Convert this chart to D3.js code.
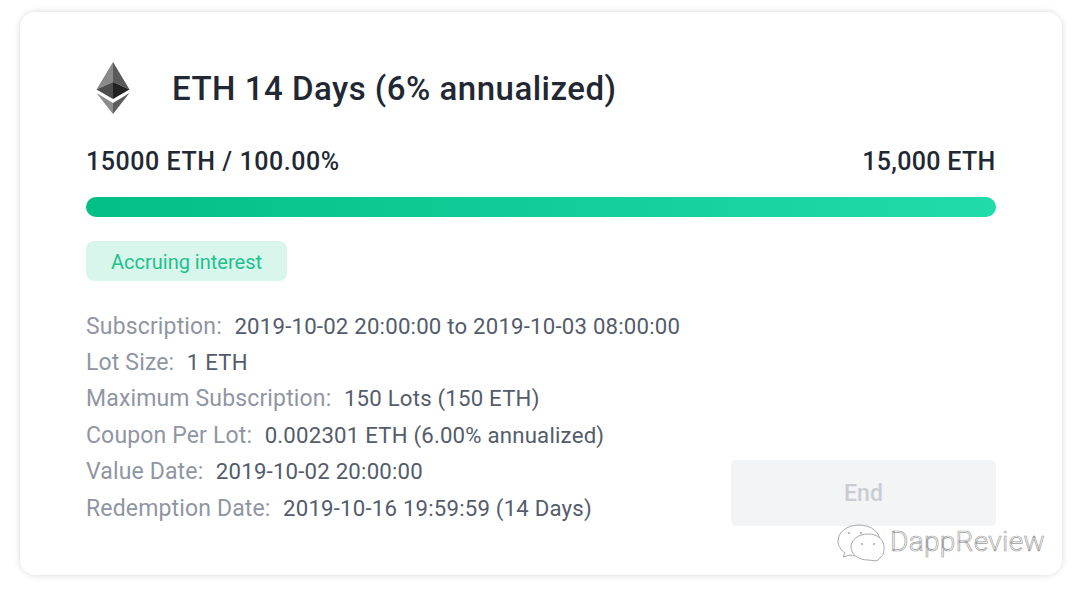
<!DOCTYPE html>
<html><head><meta charset="utf-8">
<script src="https://cdn.jsdelivr.net/npm/d3@7/dist/d3.min.js"></script>
<style>html,body{margin:0;padding:0;background:#fff}svg{display:block}text{font-family:Roboto,"Noto Sans",sans-serif}</style>
</head><body><div id="c"></div>
<script>
const title = "ETH 14 Days (6% annualized)";
const subscribed = 15000;
const total = 15000;
const progressLeft = "15000 ETH / 100.00%";
const progressRight = "15,000 ETH";
const statusLabel = "Accruing interest";
const detailLabels = ["Subscription:","Lot Size:","Maximum Subscription:","Coupon Per Lot:","Value Date:","Redemption Date:"];
const detailValues = ["2019-10-02 20:00:00 to 2019-10-03 08:00:00","1 ETH","150 Lots (150 ETH)","0.002301 ETH (6.00% annualized)","2019-10-02 20:00:00","2019-10-16 19:59:59 (14 Days)"];
const buttonLabel = "End";
const watermark = "DappReview";

const W=1080,H=592;
const svg=d3.select("#c").append("svg").attr("width",W).attr("height",H);
const defs=svg.append("defs");
const sh=defs.append("filter").attr("id","sh").attr("x","-5%").attr("y","-5%").attr("width","110%").attr("height","110%");
sh.append("feDropShadow").attr("dx",0).attr("dy",0).attr("stdDeviation",3).attr("flood-color","#000").attr("flood-opacity",.16);
const gr=defs.append("linearGradient").attr("id","gr");
gr.append("stop").attr("offset","0").attr("stop-color","#03bf86");
gr.append("stop").attr("offset","1").attr("stop-color","#1fdcaa");

svg.append("rect").attr("x",20).attr("y",12).attr("width",1042).attr("height",563).attr("rx",16).attr("fill","#fff").attr("filter","url(#sh)");

// Ethereum logo
const logo=svg.append("g").attr("transform","translate(113,88)");
[["M0,-26 L-16.5,1.5 L0,-6 Z","#8a8a8a"],["M0,-26 L16.5,1.5 L0,-6 Z","#5a5a5a"],
 ["M0,-6 L-16.5,1.5 L0,11 Z","#4d4d4d"],["M0,-6 L16.5,1.5 L0,11 Z","#222"],
 ["M-16.5,5 L0,26 L0,15 Z","#8c8c8c"],["M16.5,5 L0,26 L0,15 Z","#5c5c5c"]]
 .forEach(d=>logo.append("path").attr("d",d[0]).attr("fill",d[1]));

svg.append("text").attr("x",172).attr("y",100).attr("font-size",33).attr("font-weight",500).attr("letter-spacing",.5).attr("fill","#212833").text(title);
svg.append("text").attr("x",86).attr("y",170).attr("font-size",25).attr("font-weight",500).attr("letter-spacing",.55).attr("fill","#212833").text(progressLeft);
svg.append("text").attr("x",995.5).attr("y",170).attr("text-anchor","end").attr("font-size",25).attr("font-weight",500).attr("letter-spacing",.3).attr("fill","#212833").text(progressRight);

const x=d3.scaleLinear().domain([0,total]).range([86,996]);
svg.append("rect").attr("x",x(0)).attr("y",197).attr("width",x(total)-x(0)).attr("height",20).attr("rx",10).attr("fill","#eaecef");
svg.append("rect").attr("x",x(0)).attr("y",197).attr("width",x(subscribed)-x(0)).attr("height",20).attr("rx",10).attr("fill","url(#gr)");

svg.append("rect").attr("x",86).attr("y",241).attr("width",201).attr("height",40).attr("rx",8).attr("fill","#d9f6ec");
svg.append("text").attr("x",186.5).attr("y",269).attr("text-anchor","middle").attr("font-size",20).attr("fill","#1cc28c").text(statusLabel);

const y=d3.scalePoint().domain(detailLabels).range([333.5,515.5]);
detailLabels.forEach((l,i)=>{
  const t=svg.append("text").attr("x",86).attr("y",y(l)).attr("font-size",23).attr("letter-spacing",.15).attr("fill","#8f96a3").text(l);
  const w=t.node().getComputedTextLength();
  svg.append("text").attr("x",86+w+12.5).attr("y",y(l)).attr("font-size",22.2).attr("letter-spacing",.21).attr("fill","#535c6b").text(detailValues[i]);
});

svg.append("rect").attr("x",731).attr("y",460).attr("width",265).attr("height",66).attr("rx",5).attr("fill","#f3f4f6");
svg.append("text").attr("x",863.5).attr("y",501).attr("text-anchor","middle").attr("font-size",23).attr("font-weight",500).attr("fill","#c9ccd2").text(buttonLabel);

// Watermark
const wm=svg.append("g").attr("fill","#fff").attr("stroke","#a8a8a8").attr("stroke-width",1);
wm.append("path").attr("d","M859,525 C846,525 838,533 838,541 C838,546 841,550 845,553 L843,557 L850,555 C853,556 856,556 859,556 C872,556 880,549 880,541 C880,533 872,525 859,525 Z");
wm.append("path").attr("d","M868,534 C858,534 851,540 851,547 C851,554 858,560 868,560 L877,561 L880,558 C884,555 884,551 884,547 C884,540 878,534 868,534 Z");
[[849,533],[861,533],[862,544],[874,544]].forEach(p=>wm.append("circle").attr("cx",p[0]).attr("cy",p[1]).attr("r",1.1).attr("fill","#aaa").attr("stroke","none"));
svg.append("text").attr("x",890).attr("y",551).attr("font-size",28).attr("font-weight",300).attr("letter-spacing",.3).attr("fill","#fff").attr("stroke","#a0a0a0").attr("stroke-width",.7).text(watermark);
</script></body></html>
